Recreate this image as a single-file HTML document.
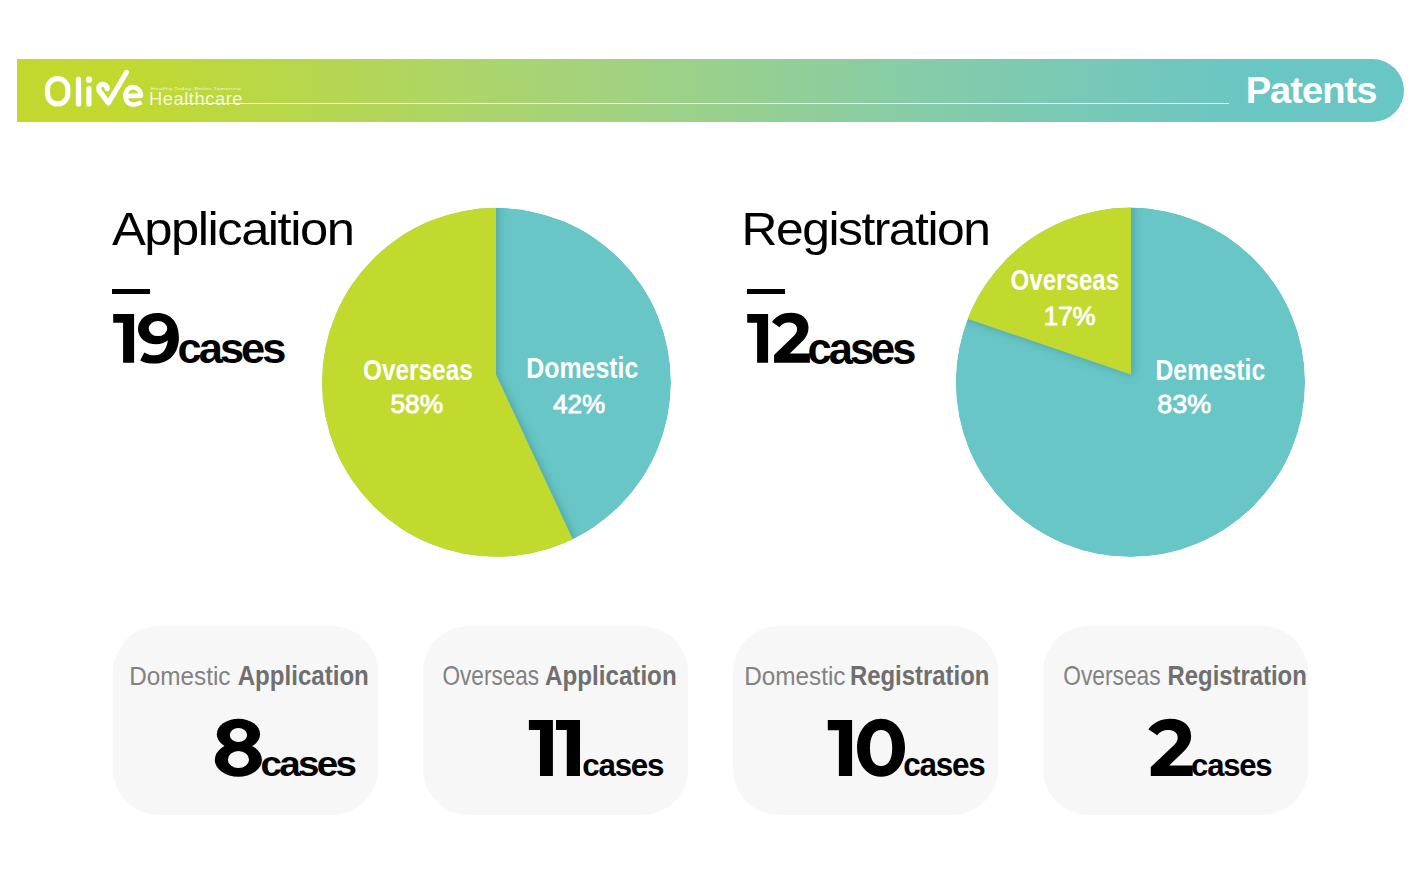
<!DOCTYPE html>
<html><head><meta charset="utf-8">
<style>
html,body{margin:0;padding:0;background:#fff;}
body{width:1420px;height:876px;overflow:hidden;position:relative;font-family:"Liberation Sans",sans-serif;}
.a{position:absolute;white-space:nowrap;line-height:1;}
.banner{position:absolute;left:17px;top:59px;width:1387px;height:63px;border-radius:0 31.5px 31.5px 0;
 background:linear-gradient(90deg,#c3d82e 0%,#c2d930 8%,#a6d37a 40%,#86cca8 65%,#6bc6c3 88%,#68c6c6 100%);}
.bline{position:absolute;left:179px;top:103px;width:1050px;height:1px;background:#fff;}
.card{position:absolute;top:626px;width:265px;height:189px;border-radius:46px;background:#f7f7f7;}
.big{font-weight:bold;color:#000;}
.ct{color:#6f6f6f;font-size:26px;}
.lbl{color:#fff;font-size:25px;}
.pc{-webkit-text-stroke:0.8px #fff;}
.lt{color:#828282;}
.big2{font-weight:bold;}
</style>
<style id="fit">
#tag{transform-origin:0 0;transform:matrix(1.0092,0,0,0.7605,-0.20,1.60)}
#hc{transform-origin:0 0;transform:matrix(1.0802,0,0,1.0286,-1.09,1.97)}
#pat{transform-origin:0 0;transform:matrix(1.1541,0,0,1.0940,-1.34,-1.63)}
#h1{transform-origin:0 0;transform:matrix(1.0802,0,0,1.0033,0.00,1.94)}
#h2{transform-origin:0 0;transform:matrix(1.0594,0,0,1.0033,-3.42,1.94)}
#n1c{transform-origin:0 0;transform:matrix(0.9883,0,0,0.9756,-12.40,1.29)}
#n2c{transform-origin:0 0;transform:matrix(0.9883,0,0,1.0090,-17.40,0.67)}
#l1{transform-origin:0 0;transform:matrix(0.9745,0,0,1.2168,0.03,-0.93)}
#p1{transform-origin:0 0;transform:matrix(1.0533,0,0,1.0302,-0.61,1.54)}
#l2{transform-origin:0 0;transform:matrix(0.9964,0,0,1.1495,-0.79,-0.73)}
#p2{transform-origin:0 0;transform:matrix(1.0440,0,0,1.0609,0.00,0.86)}
#l3{transform-origin:0 0;transform:matrix(0.9655,0,0,1.1788,-0.56,-0.35)}
#p3{transform-origin:0 0;transform:matrix(1.0376,0,0,1.0609,0.76,2.68)}
#l4{transform-origin:0 0;transform:matrix(0.9871,0,0,1.1716,-1.58,0.01)}
#p4{transform-origin:0 0;transform:matrix(1.0776,0,0,1.0302,-0.68,1.54)}
#t1a{transform-origin:0 0;transform:matrix(0.9353,0,0,1.0212,-0.87,0.94)}
#t1b{transform-origin:0 0;transform:matrix(0.9266,0,0,1.0833,-0.33,-0.45)}
#t2a{transform-origin:0 0;transform:matrix(0.8679,0,0,1.0779,-1.47,-0.71)}
#t2b{transform-origin:0 0;transform:matrix(0.9295,0,0,1.0833,-0.93,-0.45)}
#t3a{transform-origin:0 0;transform:matrix(0.9353,0,0,1.0212,-1.87,0.94)}
#t3b{transform-origin:0 0;transform:matrix(0.9189,0,0,1.0585,-2.04,-0.18)}
#t4a{transform-origin:0 0;transform:matrix(0.8734,0,0,1.0779,-1.66,-0.71)}
#t4b{transform-origin:0 0;transform:matrix(0.9176,0,0,1.0585,-1.44,-0.18)}
#c1c{transform-origin:0 0;transform:matrix(1.0725,0,0,0.9701,-1.49,-1.51)}
#c2c{transform-origin:0 0;transform:matrix(0.8717,0,0,0.8611,-0.73,2.54)}
#c3c{transform-origin:0 0;transform:matrix(0.8734,0,0,0.9000,-1.74,1.20)}
#c4c{transform-origin:0 0;transform:matrix(0.8632,0,0,0.8611,-0.88,2.54)}
</style></head><body>
<div class="banner"></div>
<div class="bline"></div>
<svg class="a" style="left:0;top:0" width="260" height="130" viewBox="0 0 260 130">
 <g fill="none" stroke="#fff" stroke-width="5.2" stroke-linecap="round" stroke-linejoin="round">
  <path d="M47.55,88.5 A10.1 9.8 0 0 1 67.75,88.5 L67.75,94.1 A10.1 9.8 0 0 1 47.55,94.1 Z"/>
  <line x1="78.5" y1="79.4" x2="78.5" y2="104"/>
  <line x1="88.9" y1="88.6" x2="88.9" y2="104"/>
  <path d="M107.2,88.6 A4.3 4.3 0 1 0 99.0,90.4 L108.4,103 L126.4,72.5"/>
  <path stroke-width="4.6" stroke-linecap="butt" d="M125.4,95.85 L140.9,95.85 A7.75 8.75 0 1 0 135.5,104.19 Q138.8,103.7 141.6,102.3"/>
 </g>
 <circle cx="89" cy="79.7" r="3.1" fill="#fff"/>
</svg>
<div class="a" id="tag" style="left:151px;top:85px;font-size:5.6px;color:rgba(255,255,255,0.85);letter-spacing:0.35px">Healthy Today, Better Tomorrow</div>
<div class="a" id="hc" style="left:150px;top:89px;font-size:17px;color:rgba(255,255,255,0.82);letter-spacing:0.5px">Healthcare</div>
<div class="a big" id="pat" style="left:1247px;top:74px;font-size:33px;color:#fff;letter-spacing:-0.025em">Patents</div>

<div class="a" id="h1" style="left:112px;top:203px;font-size:47px;color:#000;letter-spacing:-0.03em">Applicaition</div>
<div class="a" style="left:112px;top:289px;width:38px;height:5px;background:#000"></div>
<div class="a big" id="n1c" style="left:190px;top:326px;font-size:44px;letter-spacing:-0.07em">cases</div>

<div class="a" id="h2" style="left:745px;top:203px;font-size:47px;color:#000;letter-spacing:-0.03em">Registration</div>
<div class="a" style="left:747px;top:289px;width:38px;height:5px;background:#000"></div>
<div class="a big" id="n2c" style="left:825px;top:326px;font-size:44px;letter-spacing:-0.07em">cases</div>

<svg class="a" style="left:0;top:0" width="1420" height="600" viewBox="0 0 1420 600">
 <defs>
  <filter id="sh" x="-20%" y="-20%" width="140%" height="140%">
   <feDropShadow dx="2" dy="1" stdDeviation="5" flood-color="#2e6c6c" flood-opacity="0.42"/>
  </filter>
  <clipPath id="c1"><circle cx="496.5" cy="382.3" r="174.5"/></clipPath>
  <clipPath id="c2"><circle cx="1130.4" cy="382.3" r="174.7"/></clipPath>
 </defs>
 <g clip-path="url(#c1)">
  <circle cx="496.5" cy="382.3" r="174.5" fill="#68c6c6"/>
  <path filter="url(#sh)" d="M496,180 L496,374.7 L580,555 L300,600 L300,180 Z" fill="#c2d92e"/>
 </g>
 <g clip-path="url(#c2)">
  <circle cx="1130.4" cy="382.3" r="174.7" fill="#68c6c6"/>
  <path filter="url(#sh)" d="M1131,180 L1131,374.6 L930,305.8 L930,180 Z" fill="#c2d92e"/>
 </g>
</svg>
<div class="a lbl big" id="l1" style="left:363px;top:355px">Overseas</div>
<div class="a lbl pc" id="p1" style="left:391px;top:390px">58%</div>
<div class="a lbl big" id="l2" style="left:527px;top:355px">Domestic</div>
<div class="a lbl pc" id="p2" style="left:553px;top:390px">42%</div>
<div class="a lbl big" id="l3" style="left:1011px;top:266px">Overseas</div>
<div class="a lbl pc" id="p3" style="left:1043px;top:300px">17%</div>
<div class="a lbl big" id="l4" style="left:1157px;top:355px">Demestic</div>
<div class="a lbl pc" id="p4" style="left:1158px;top:390px">83%</div>

<div class="card" style="left:113px"></div>
<div class="card" style="left:423px"></div>
<div class="card" style="left:733px"></div>
<div class="card" style="left:1043px"></div>

<div class="a ct lt" id="t1a" style="left:130px;top:662px">Domestic</div>
<div class="a ct big2" id="t1b" style="left:238px;top:662px">Application</div>
<div class="a ct lt" id="t2a" style="left:444px;top:662px">Overseas</div>
<div class="a ct big2" id="t2b" style="left:546px;top:662px">Application</div>
<div class="a ct lt" id="t3a" style="left:746px;top:662px">Domestic</div>
<div class="a ct big2" id="t3b" style="left:852px;top:662px">Registration</div>
<div class="a ct lt" id="t4a" style="left:1065px;top:662px">Overseas</div>
<div class="a ct big2" id="t4b" style="left:1169px;top:662px">Registration</div>

<div class="a big" id="c1c" style="left:262px;top:748px;font-size:36px;letter-spacing:-0.07em">cases</div>
<div class="a big" id="c2c" style="left:583px;top:748px;font-size:36px;letter-spacing:-0.04em">cases</div>
<div class="a big" id="c3c" style="left:905px;top:748px;font-size:36px;letter-spacing:-0.04em">cases</div>
<div class="a big" id="c4c" style="left:1192px;top:748px;font-size:36px;letter-spacing:-0.04em">cases</div>
<svg class="a" style="left:0;top:0" width="1420" height="876" viewBox="0 0 1420 876"><g fill="#000">
 <polygon points="113.2,314.1 134.1,314.1 134.1,362.7 123.1,362.7 123.1,322.8 113.2,322.8"/>
 <polygon points="747.2,314.1 768.1,314.1 768.1,362.7 757.1,362.7 757.1,322.8 747.2,322.8"/>
 <polygon points="528.9,719.9 552.9,719.9 552.9,775.9 540,775.9 540,730 528.9,730"/>
 <polygon points="556,719.9 580,719.9 580,775.9 566.8,775.9 566.8,730 556,730"/>
 <polygon points="827.8,720 852.1,720 852.1,775.9 838.9,775.9 838.9,730.2 827.8,730.2"/>
</g></svg>
<svg class="a" style="left:0;top:0" width="1420" height="876" viewBox="0 0 1420 876"><g fill="#000">
 <path d="M1148.4,729.2 C1153.5,722.5 1161,718.8 1170.3,718.8 C1183,718.8 1191.1,725.5 1191.1,736 C1191.1,742 1188.5,746.5 1184.7,750.4 L1169.2,765.5 L1192.7,765.5 L1192.7,775.9 L1150.8,775.9 L1150.8,767.1 L1174.4,744.8 C1177,742 1177.7,740 1177.7,737.6 C1177.7,732.5 1173.5,730 1168,730 C1163,730 1159.5,732 1157.2,735.2 Z"/>
 <path transform="translate(771.9,312.8) scale(0.856,0.874) translate(-1148.3,-718.8)" d="M1148.4,729.2 C1153.5,722.5 1161,718.8 1170.3,718.8 C1183,718.8 1191.1,725.5 1191.1,736 C1191.1,742 1188.5,746.5 1184.7,750.4 L1169.2,765.5 L1192.7,765.5 L1192.7,775.9 L1150.8,775.9 L1150.8,767.1 L1174.4,744.8 C1177,742 1177.7,740 1177.7,737.6 C1177.7,732.5 1173.5,730 1168,730 C1163,730 1159.5,732 1157.2,735.2 Z"/>
 <path fill-rule="evenodd" d="M140.2,360.4 L144.3,352.5 C148,354.5 151,355.3 154.5,355.3 C161.5,355.3 166.5,350.5 167.9,340.2 C164.5,343 160.5,344.3 156.6,344.3 C145.5,344.3 138,337.5 138,329.2 C138,319.5 146,312.9 157.3,312.9 C171,312.9 178.9,322.5 178.9,337.5 C178.9,353.5 169,363.6 154.5,363.6 C149,363.6 144,362.5 140.2,360.4 Z M148.7,328.55 A9.25 7.55 0 1 0 167.2,328.55 A9.25 7.55 0 1 0 148.7,328.55 Z"/>
 <path fill-rule="evenodd" d="M857.05,747.75 C857.05,730.95 867.1,718.8 881,718.8 C894.9,718.8 905,730.95 905,747.75 C905,764.55 894.9,776.7 881,776.7 C867.1,776.7 857.05,764.55 857.05,747.75 Z M870,747.9 C870,736.2 873.9,729.9 881.1,729.9 C888.3,729.9 892.2,736.2 892.2,747.9 C892.2,759.6 888.3,765.9 881.1,765.9 C873.9,765.9 870,759.6 870,747.9 Z"/>
 <ellipse cx="238.45" cy="734.2" rx="21.65" ry="15.4"/>
 <ellipse cx="238.35" cy="759.8" rx="23.55" ry="17"/>
 <ellipse cx="238.45" cy="735.05" rx="8.65" ry="7.05" fill="#f7f7f7"/>
 <ellipse cx="238.45" cy="759.45" rx="10.55" ry="8.55" fill="#f7f7f7"/>
</g></svg>
</body></html>
